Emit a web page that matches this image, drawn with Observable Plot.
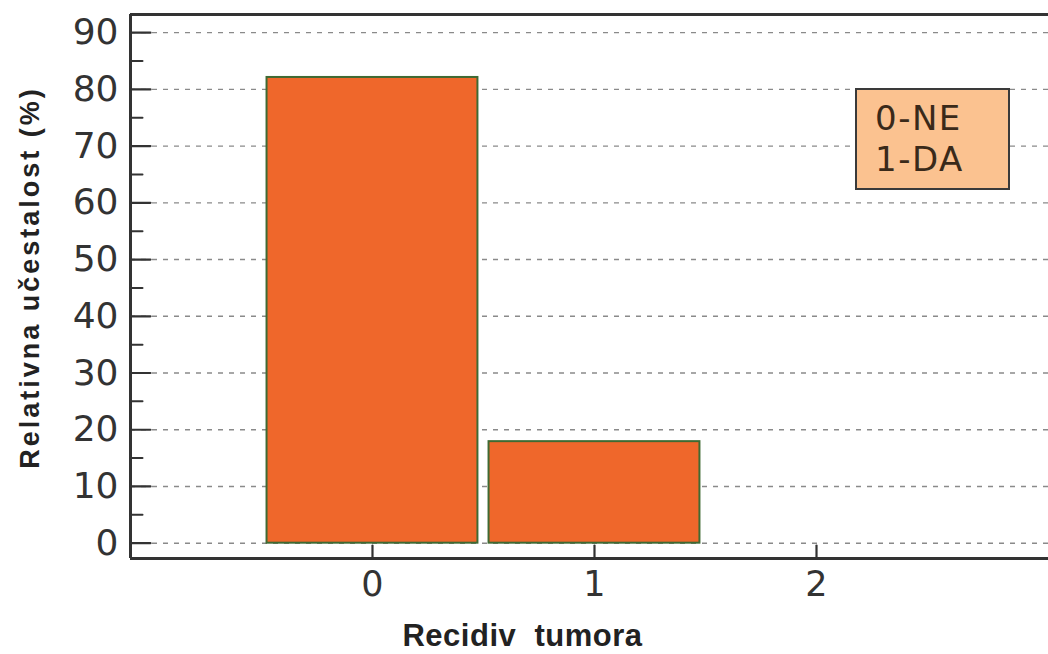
<!DOCTYPE html>
<html>
<head>
<meta charset="utf-8">
<script src="https://cdn.jsdelivr.net/npm/d3@7"></script>
<script src="https://cdn.jsdelivr.net/npm/@observablehq/plot@0.6"></script>
<style>
  html, body { margin: 0; padding: 0; background: #fff; }
  #wrap { position: relative; width: 1048px; height: 654px; overflow: hidden; }
  #legend {
    position: absolute; left: 855px; top: 88px; width: 151px; height: 98px;
    background: #FBC290; border: 2px solid #3a3a3a;
    font-family: "DejaVu Sans", sans-serif; font-size: 34px; color: #3a2a1a;
    line-height: 41px; letter-spacing: 1.5px; padding: 0; box-sizing: content-box;
  }
  #legend div { padding-left: 18px; }
</style>
</head>
<body>
<div id="wrap"></div>
<script>
// ---- data ----
const categories = [0, 1, 2];
const values = [82.1, 17.9, 0];
const yMajorTicks = [0, 10, 20, 30, 40, 50, 60, 70, 80, 90];
const yMinorTicks = [5, 15, 25, 35, 45, 55, 65, 75, 85];
const xTicks = [0, 1, 2];
const legendLines = ["0-NE", "1-DA"];
const xLabel = "Recidiv  tumora";
const yLabel = "Relativna učestalost (%)";

const data = categories.map((c, i) => ({cat: c, v: values[i]}));
const xDomain = [-1.09, 3.045];
const yDomain = [-2.7, 93.2];
const ink = "#333";
const inward = {draw(ctx, l) { ctx.moveTo(0, 0); ctx.lineTo(0, -l); }};

const chart = Plot.plot({
  width: 1048,
  height: 654,
  marginLeft: 130,
  marginRight: 0,
  marginTop: 14,
  marginBottom: 96,
  style: {background: "transparent", fontFamily: "DejaVu Sans, sans-serif", overflow: "visible"},
  x: {domain: xDomain},
  y: {domain: yDomain},
  marks: [
    // dashed grid
    Plot.ruleY(yMajorTicks, {stroke: "#8a8a8a", strokeWidth: 1.4, strokeDasharray: "5,6"}),
    // bars
    Plot.rectY(data.filter(d => d.v > 0), {
      x1: d => d.cat - 0.475, x2: d => d.cat + 0.475, y1: 0, y2: "v",
      fill: "#EF672B", stroke: "#3f6a33", strokeWidth: 2
    }),
    // frame lines (no right border)
    Plot.ruleX([xDomain[0]], {stroke: ink, strokeWidth: 3}),
    Plot.ruleY([yDomain[0]], {stroke: ink, strokeWidth: 3}),
    Plot.ruleY([yDomain[1]], {stroke: ink, strokeWidth: 3}),
    // inward ticks
    Plot.vector(yMajorTicks, {y: d => d, frameAnchor: "left", length: 20, rotate: 90, anchor: "start", shape: inward, stroke: ink, strokeWidth: 2.2}),
    Plot.vector(yMinorTicks, {y: d => d, frameAnchor: "left", length: 12, rotate: 90, anchor: "start", shape: inward, stroke: ink, strokeWidth: 2}),
    Plot.vector(xTicks, {x: d => d, frameAnchor: "bottom", length: 13, rotate: 0, anchor: "start", shape: inward, stroke: ink, strokeWidth: 2.2}),
    // tick labels
    Plot.axisY(yMajorTicks, {tickSize: 0, tickPadding: 12, fontSize: 36, fill: ink, label: null, tickFormat: d3.format("d"), fontFamily: "DejaVu Sans, sans-serif"}),
    Plot.axisX(xTicks, {tickSize: 0, tickPadding: 13, fontSize: 35, fill: ink, label: null, tickFormat: d3.format("d"), fontFamily: "DejaVu Sans, sans-serif"}),
    // axis titles
    Plot.text([xLabel], {text: d => d, frameAnchor: "bottom", textAnchor: "middle", dx: -67, dy: 78, fontSize: 31, fontWeight: "bold", fill: "#222", fontFamily: "Liberation Sans, Arial, sans-serif", lineAnchor: "middle"}),
    Plot.text([yLabel], {text: d => d, frameAnchor: "left", textAnchor: "middle", dx: -100, dy: -9, rotate: -90, fontSize: 27, fontWeight: "bold", fill: "#222", fontFamily: "Liberation Sans, Arial, sans-serif", lineAnchor: "middle"})
  ]
});

const wrap = document.getElementById("wrap");
wrap.appendChild(chart);
d3.select(chart).selectAll("text").filter(function() { return this.textContent === yLabel; }).attr("letter-spacing", "3px");
d3.select(chart).selectAll("text").filter(function() { return this.textContent === xLabel; }).attr("letter-spacing", "0.5px").attr("xml:space", "preserve").style("white-space", "pre");

const legend = document.createElement("div");
legend.id = "legend";
legend.style.paddingTop = "8px";
legend.style.height = "90px";
for (const t of legendLines) { const d = document.createElement("div"); d.textContent = t; legend.appendChild(d); }
wrap.appendChild(legend);
</script>
</body>
</html>
